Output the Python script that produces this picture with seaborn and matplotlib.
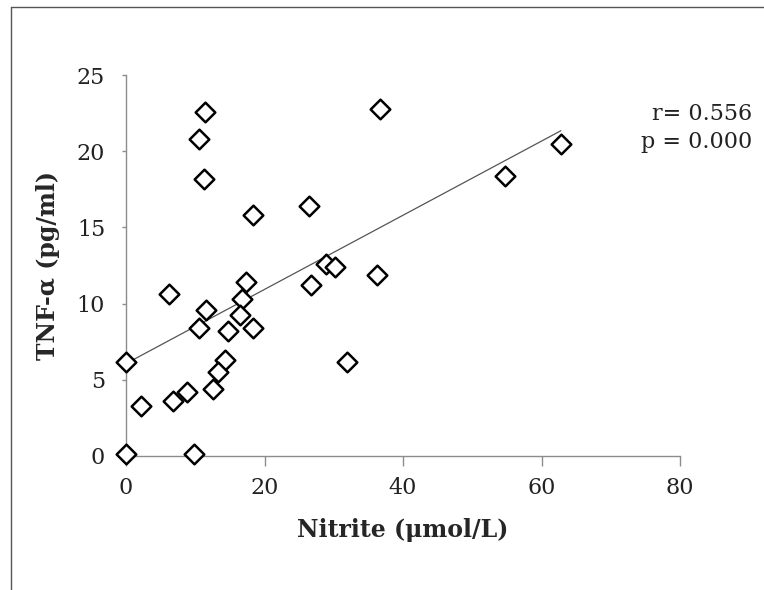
import numpy as np
import pandas as pd
import seaborn as sns
import matplotlib.pyplot as plt
from matplotlib.lines import Line2D

# values
nitrite = [11.45, 10.5, 11.3, 18.3, 26.4, 36.7, 62.8, 54.7, 28.9, 30.2,
           26.7, 36.3, 31.9, 17.3, 6.25, 16.7, 11.55, 16.5, 10.5, 14.8,
           18.3, 0.0, 14.3, 13.3, 12.5, 8.8, 6.8, 2.2, 0.0, 9.8]
tnf = [22.6, 20.8, 18.2, 15.8, 16.4, 22.8, 20.45, 18.4, 12.6, 12.4,
       11.2, 11.9, 6.2, 11.4, 10.6, 10.3, 9.6, 9.25, 8.4, 8.2,
       8.4, 6.2, 6.3, 5.5, 4.4, 4.2, 3.6, 3.3, 0.1, 0.1]
x_ticks = [0, 20, 40, 60, 80]
y_ticks = [0, 5, 10, 15, 20, 25]
stats_text = "r= 0.556\np = 0.000"

df = pd.DataFrame({"nitrite": nitrite, "tnf": tnf})

sns.set_style("white")
plt.rcParams['font.family'] = ['DejaVu Serif']

fig = plt.figure(figsize=(7.64, 5.90), dpi=100)
ax = fig.add_axes([126 / 764, 1 - 456 / 590, 554 / 764, 381 / 590])

# trend line
sns.regplot(data=df, x="nitrite", y="tnf", ax=ax, scatter=False, ci=None,
            truncate=True, line_kws={"color": "#555555", "linewidth": 0.9})

sns.scatterplot(data=df, x="nitrite", y="tnf", ax=ax, marker="D", s=100,
                facecolor="white", edgecolor="black", linewidth=1.8,
                clip_on=False, zorder=3)

ax.set_xlim(0, 80)
ax.set_ylim(0, 25)
ax.set_xticks(x_ticks)
ax.set_yticks(y_ticks)

for side in ["top", "right"]:
    ax.spines[side].set_visible(False)
for side in ["left", "bottom"]:
    ax.spines[side].set_color("#8c8c8c")
    ax.spines[side].set_linewidth(1.0)

ax.tick_params(axis="x", direction="out", length=7, width=1, color="#8c8c8c",
               pad=8, labelsize=16, labelcolor="#222222", bottom=True)
ax.tick_params(axis="y", direction="out", length=3, width=1, color="#8c8c8c",
               pad=12, labelsize=16, labelcolor="#222222", left=True)

ax.set_xlabel("Nitrite (μmol/L)", fontsize=17, fontweight="bold", labelpad=14)
ax.set_ylabel("TNF-α (pg/ml)", fontsize=17, fontweight="bold", labelpad=12)

fig.text(752 / 764, 1 - 128 / 590, stats_text, ha="right", va="center",
         fontsize=16, color="#222222", linespacing=1.3)

# outer frame lines (left and top only, as in the reference)
fig.add_artist(Line2D([11 / 764, 11 / 764], [0, 1 - 7 / 590],
                      transform=fig.transFigure, color="#555555", linewidth=1))
fig.add_artist(Line2D([11 / 764, 1], [1 - 7 / 590, 1 - 7 / 590],
                      transform=fig.transFigure, color="#555555", linewidth=1))

fig.savefig("out.png", dpi=100)
